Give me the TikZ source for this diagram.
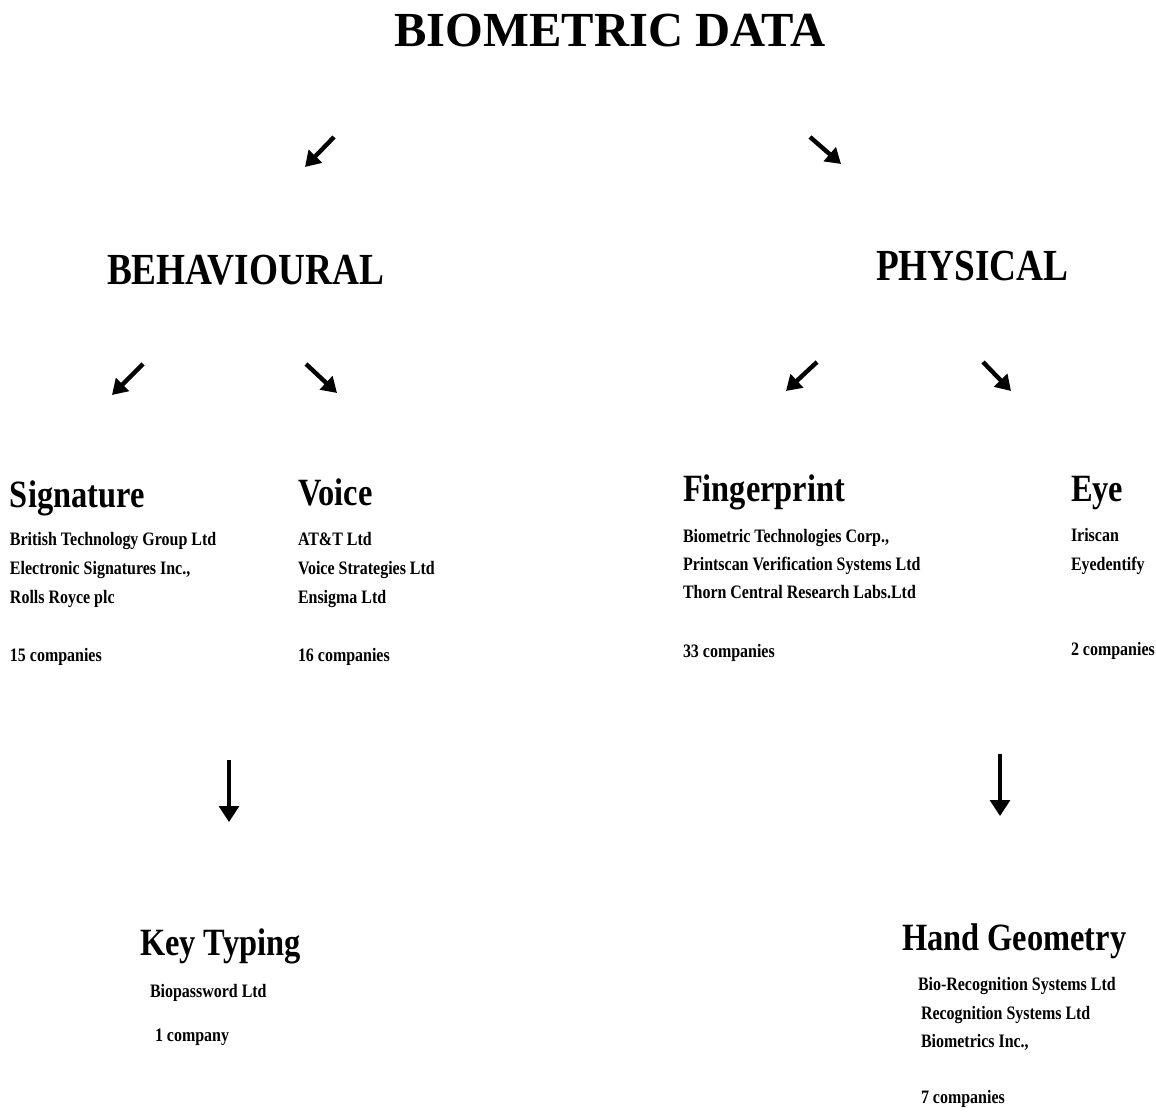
\documentclass[tikz,border=0pt]{standalone}
\usepackage{fontspec}
\setmainfont{Liberation Serif}[FakeStretch=0.84]
\usetikzlibrary{arrows.meta}
\begin{document}
\begin{tikzpicture}[x=0.5pt,y=-0.5pt,
  every node/.style={inner sep=0pt,outer sep=0pt,font=\bfseries},
  ttl/.style={anchor=base,font=\bfseries\fontsize{24.5}{28}\selectfont},
  cat/.style={anchor=base west,font=\bfseries\fontsize{22.2}{26}\selectfont},
  sub/.style={anchor=base west,font=\bfseries\fontsize{19.3}{22}\selectfont},
  item/.style={anchor=base west,font=\bfseries\fontsize{9.5}{11}\selectfont},
  diag/.style={line width=2.2pt,-{Triangle[length=7.5pt,width=9pt]}},
  down/.style={line width=1.6pt,-{Triangle[length=8pt,width=10pt]}}]
\useasboundingbox (0,0) rectangle (1156,1112);

\node[ttl] (title) at (610,47) {\scalebox{1.18}[1]{BIOMETRIC DATA}};

\coordinate (a1s) at (334,137); \coordinate (a1e) at (305,167);
\coordinate (a2s) at (810,137); \coordinate (a2e) at (841,164);
\draw[diag] (a1s) -- (a1e);
\draw[diag] (a2s) -- (a2e);

\node[cat] (beh) at (107,285) {BEHAVIOURAL};
\node[cat] (phy) at (876,281) {PHYSICAL};

\coordinate (b1s) at (143,364); \coordinate (b1e) at (112,395);
\coordinate (b2s) at (306,364); \coordinate (b2e) at (337,393);
\coordinate (p1s) at (817,362); \coordinate (p1e) at (786,391);
\coordinate (p2s) at (983,362); \coordinate (p2e) at (1011,391);
\draw[diag] (b1s) -- (b1e);
\draw[diag] (b2s) -- (b2e);
\draw[diag] (p1s) -- (p1e);
\draw[diag] (p2s) -- (p2e);

% Signature
\node[sub] (sig) at (10,507) {Signature};
\node[item] (sig1) at (10,545) {British Technology Group Ltd};
\node[item] (sig2) at (10,574) {Electronic Signatures Inc.,};
\node[item] (sig3) at (10,603) {Rolls Royce plc};
\node[item] (sig4) at (10,661) {15 companies};

% Voice
\node[sub] (voi) at (298,505) {Voice};
\node[item] (voi1) at (298,545) {AT\&T Ltd};
\node[item] (voi2) at (298,574) {Voice Strategies Ltd};
\node[item] (voi3) at (298,603) {Ensigma Ltd};
\node[item] (voi4) at (298,661) {16 companies};

% Fingerprint
\node[sub] (fin) at (683,502) {Fingerprint};
\node[item] (fin1) at (683,542) {Biometric Technologies Corp.,};
\node[item] (fin2) at (683,570) {Printscan Verification Systems Ltd};
\node[item] (fin3) at (683,598) {Thorn Central Research Labs.Ltd};
\node[item] (fin4) at (683,657) {33 companies};

% Eye
\node[sub] (eye) at (1071,502) {Eye};
\node[item] (eye1) at (1071,541) {Iriscan};
\node[item] (eye2) at (1071,570) {Eyedentify};
\node[item] (eye3) at (1071,655) {2 companies};

% down arrows
\coordinate (d1s) at (229,760); \coordinate (d1e) at (229,822);
\coordinate (d2s) at (1000,754); \coordinate (d2e) at (1000,816);
\draw[down] (d1s) -- (d1e);
\draw[down] (d2s) -- (d2e);

% Key Typing
\node[sub] (key) at (140,955) {Key Typing};
\node[item] (key1) at (150,997) {Biopassword Ltd};
\node[item] (key2) at (155,1041) {1 company};

% Hand Geometry
\node[sub] (hand) at (902,950) {Hand Geometry};
\node[item] (hand1) at (918,990) {Bio-Recognition Systems Ltd};
\node[item] (hand2) at (921,1019) {Recognition Systems Ltd};
\node[item] (hand3) at (921,1047) {Biometrics Inc.,};
\node[item] (hand4) at (921,1103) {7 companies};
\end{tikzpicture}
\end{document}
